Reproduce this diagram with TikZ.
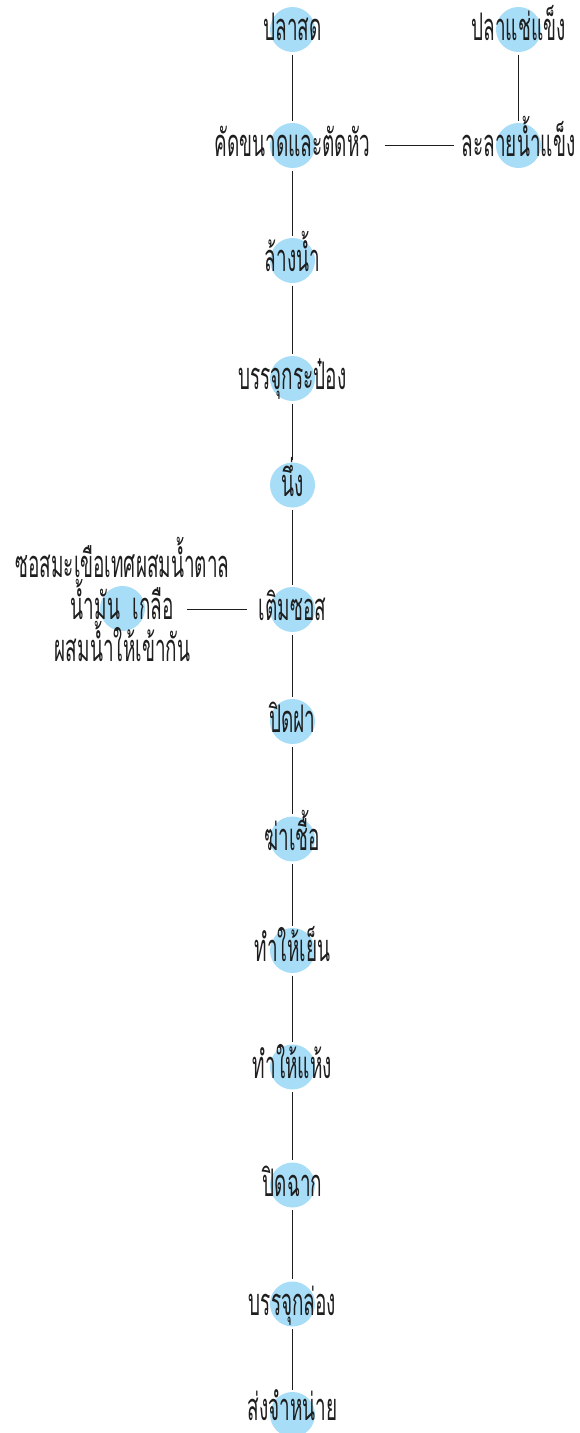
\documentclass[tikz,border=0pt]{standalone}
\usepackage{fontspec}
\newfontfamily\thaifont[Script=Thai,FakeStretch=0.5]{Loma}
\definecolor{dotblue}{RGB}{168,221,247}
\definecolor{ink}{RGB}{30,30,30}
\tikzset{
  dot/.style={circle, fill=dotblue, minimum size=45pt, inner sep=0pt, outer sep=2.5pt},
  lbl/.style={font=\thaifont\fontsize{38}{44}\selectfont, text=ink, inner sep=0pt, anchor=base},
  link/.style={draw=ink, line width=1.1pt}
}
% one process step: blue dot with its caption set over it
\newcommand\procnode[4]{%
  \node[dot] (c#1) at (#2,#3) {};
  \node[lbl] (t#1) at (#2,#3+11) {#4};
}
\begin{document}
\begin{tikzpicture}[x=1pt,y=-1pt]
\useasboundingbox (0,0) rectangle (580,1433);
\procnode{a}{292.5}{29.5}{ปลาสด}
\procnode{b}{292.5}{145.5}{คัดขนาดและตัดหัว}
\procnode{c}{292.5}{260.5}{ล้างน้ำ}
\procnode{d}{292.5}{378.5}{บรรจุกระป๋อง}
\procnode{e}{292.5}{485}{นึ่ง}
\procnode{f}{292.5}{609.5}{เติมซอส}
\procnode{g}{292.5}{721.5}{ปิดฝา}
\procnode{h}{292.5}{839}{ฆ่าเชื้อ}
\procnode{i}{292.5}{950.5}{ทำให้เย็น}
\procnode{j}{292.5}{1067}{ทำให้แห้ง}
\procnode{k}{292.5}{1185}{ปิดฉาก}
\procnode{l}{292.5}{1304}{บรรจุกล่อง}
% last step sits at the lower edge
\node[dot] (cm) at (292.5,1414.5) {};
\node[lbl] (tm) at (292.5,1420) {ส่งจำหน่าย};
% frozen fish branch
\procnode{p}{518.5}{29.5}{ปลาแช่แข็ง}
\procnode{q}{518.5}{145.5}{ละลายน้ำแข็ง}
% sauce branch
\procnode{s}{122.5}{608.5}{น้ำมัน\ \ เกลือ}
\node[lbl] (sTop) at (122.5,577) {ซอสมะเขือเทศผสมน้ำตาล};
\node[lbl] (sBot) at (122.5,661) {ผสมน้ำให้เข้ากัน};
% connectors
\foreach \u/\v in {a/b,b/c,c/d,d/e,e/f,f/g,g/h,h/i,i/j,j/k,k/l,l/m,p/q}
  \draw[link] (c\u) -- (c\v);
\draw[link] ([xshift=14pt]tb.east |- cb) -- ([xshift=-8pt]tq.west |- cb);
\draw[link] ([xshift=13pt]ts.east |- cf) -- ([xshift=-12pt]tf.west |- cf);
\end{tikzpicture}
\end{document}
